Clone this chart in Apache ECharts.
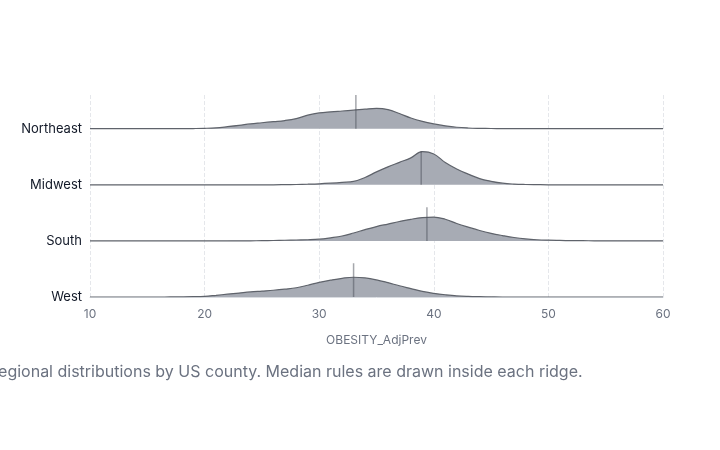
<!DOCTYPE html>
<html>
<head>
<meta charset="utf-8">
<script src="https://cdn.jsdelivr.net/npm/echarts@6/dist/echarts.min.js"></script>
<style>
  html, body { margin: 0; padding: 0; background: #fff; }
  #chart { width: 720px; height: 450px; }
</style>
</head>
<body>
<div id="chart"></div>
<script>
// regions, bottom row first (row index = baseline on the y axis)
var regions = ['West', 'South', 'Midwest', 'Northeast'];
var medians = [33.0, 39.4, 38.9, 33.2];

// obesity prevalence grid shared by all ridges
var xs = [10, 16, 17, 18, 19, 20, 21, 22, 23, 24, 25, 26, 27, 28, 29, 30, 31, 32, 33, 34, 35,
  36, 37, 38, 39, 40, 41, 42, 43, 44, 45, 46, 47, 48, 49, 50, 51, 52, 53, 54, 56, 60];

// ridge heights (in row units)
var westDens = [0, 0, 0.001, 0.002, 0.005, 0.012, 0.03, 0.05, 0.07, 0.09, 0.105, 0.12, 0.14, 0.165, 0.21, 0.26, 0.30, 0.333, 0.352, 0.34, 0.305,
  0.255, 0.20, 0.15, 0.10, 0.066, 0.04, 0.02, 0.01, 0.005, 0.002, 0, 0, 0, 0, 0, 0, 0, 0, 0, 0, 0];
var southDens = [0, 0, 0, 0, 0, 0, 0, 0, 0.001, 0.002, 0.004, 0.007, 0.011, 0.016, 0.02, 0.03, 0.055, 0.087, 0.14, 0.20, 0.255,
  0.30, 0.345, 0.385, 0.415, 0.425, 0.385, 0.31, 0.245, 0.185, 0.135, 0.095, 0.06, 0.035, 0.02, 0.012, 0.008, 0.005, 0.003, 0.002, 0.001, 0];
var midwestDens = [0, 0, 0, 0, 0, 0, 0, 0, 0, 0, 0, 0, 0.002, 0.005, 0.01, 0.017, 0.028, 0.042, 0.06, 0.13, 0.23,
  0.32, 0.40, 0.48, 0.592, 0.55, 0.395, 0.28, 0.19, 0.11, 0.062, 0.028, 0.012, 0.005, 0.002, 0, 0, 0, 0, 0, 0, 0];
var northeastDens = [0, 0, 0, 0, 0.002, 0.006, 0.015, 0.035, 0.058, 0.085, 0.105, 0.125, 0.145, 0.18, 0.24, 0.28, 0.30, 0.315, 0.33, 0.348, 0.362,
  0.34, 0.27, 0.19, 0.13, 0.085, 0.05, 0.025, 0.012, 0.006, 0.003, 0.001, 0, 0, 0, 0, 0, 0, 0, 0, 0, 0];

var densities = [westDens, southDens, midwestDens, northeastDens];
var medianLen = 0.6;

var chart = echarts.init(document.getElementById('chart'));

var series = [];
regions.forEach(function (name, i) {
  var pts = [];
  for (var k = 0; k < xs.length; k++) {
    pts.push([xs[k], i + densities[i][k]]);
  }
  series.push({
    name: name,
    type: 'line',
    data: pts,
    smooth: 0.4,
    showSymbol: false,
    silent: true,
    z: 2 + (regions.length - i) * 2,
    lineStyle: { color: '#5f636b', width: 1.2 },
    areaStyle: { color: '#a7abb4', opacity: 1, origin: i }
  });
  series.push({
    name: name + ' median',
    type: 'line',
    data: [[medians[i], i], [medians[i], i + medianLen]],
    showSymbol: false,
    silent: true,
    z: 3 + (regions.length - i) * 2,
    lineStyle: { color: 'rgba(75,80,90,0.5)', width: 1.5 }
  });
});

chart.setOption({
  animation: false,
  grid: { left: 90, right: 57, top: 95, bottom: 153 },
  xAxis: {
    type: 'value',
    min: 10,
    max: 60,
    interval: 10,
    name: 'OBESITY_AdjPrev',
    nameLocation: 'middle',
    nameGap: 37,
    nameTextStyle: { color: '#6b7280', fontSize: 12, fontFamily: 'Inter' },
    axisLine: { show: true, lineStyle: { color: '#d9dce1' } },
    axisTick: { show: false },
    axisLabel: { color: '#6b7280', fontSize: 12, fontFamily: 'Inter', margin: 11 },
    splitLine: { show: true, lineStyle: { color: '#e5e7eb', type: 'dashed' } }
  },
  yAxis: {
    type: 'value',
    min: 0,
    max: 3.6,
    interval: 1,
    axisLine: { show: false },
    axisTick: { show: false },
    splitLine: { show: false },
    axisLabel: {
      color: '#111827',
      fontSize: 13,
      fontFamily: 'Inter',
      margin: 8,
      formatter: function (v) {
        return Number.isInteger(v) && regions[v] ? regions[v] : '';
      }
    }
  },
  graphic: [{
    type: 'text',
    left: -12,
    top: 364,
    style: {
      text: 'Regional distributions by US county. Median rules are drawn inside each ridge.',
      fill: '#6b7280',
      font: '16px Inter'
    }
  }],
  series: series
});
</script>
</body>
</html>
